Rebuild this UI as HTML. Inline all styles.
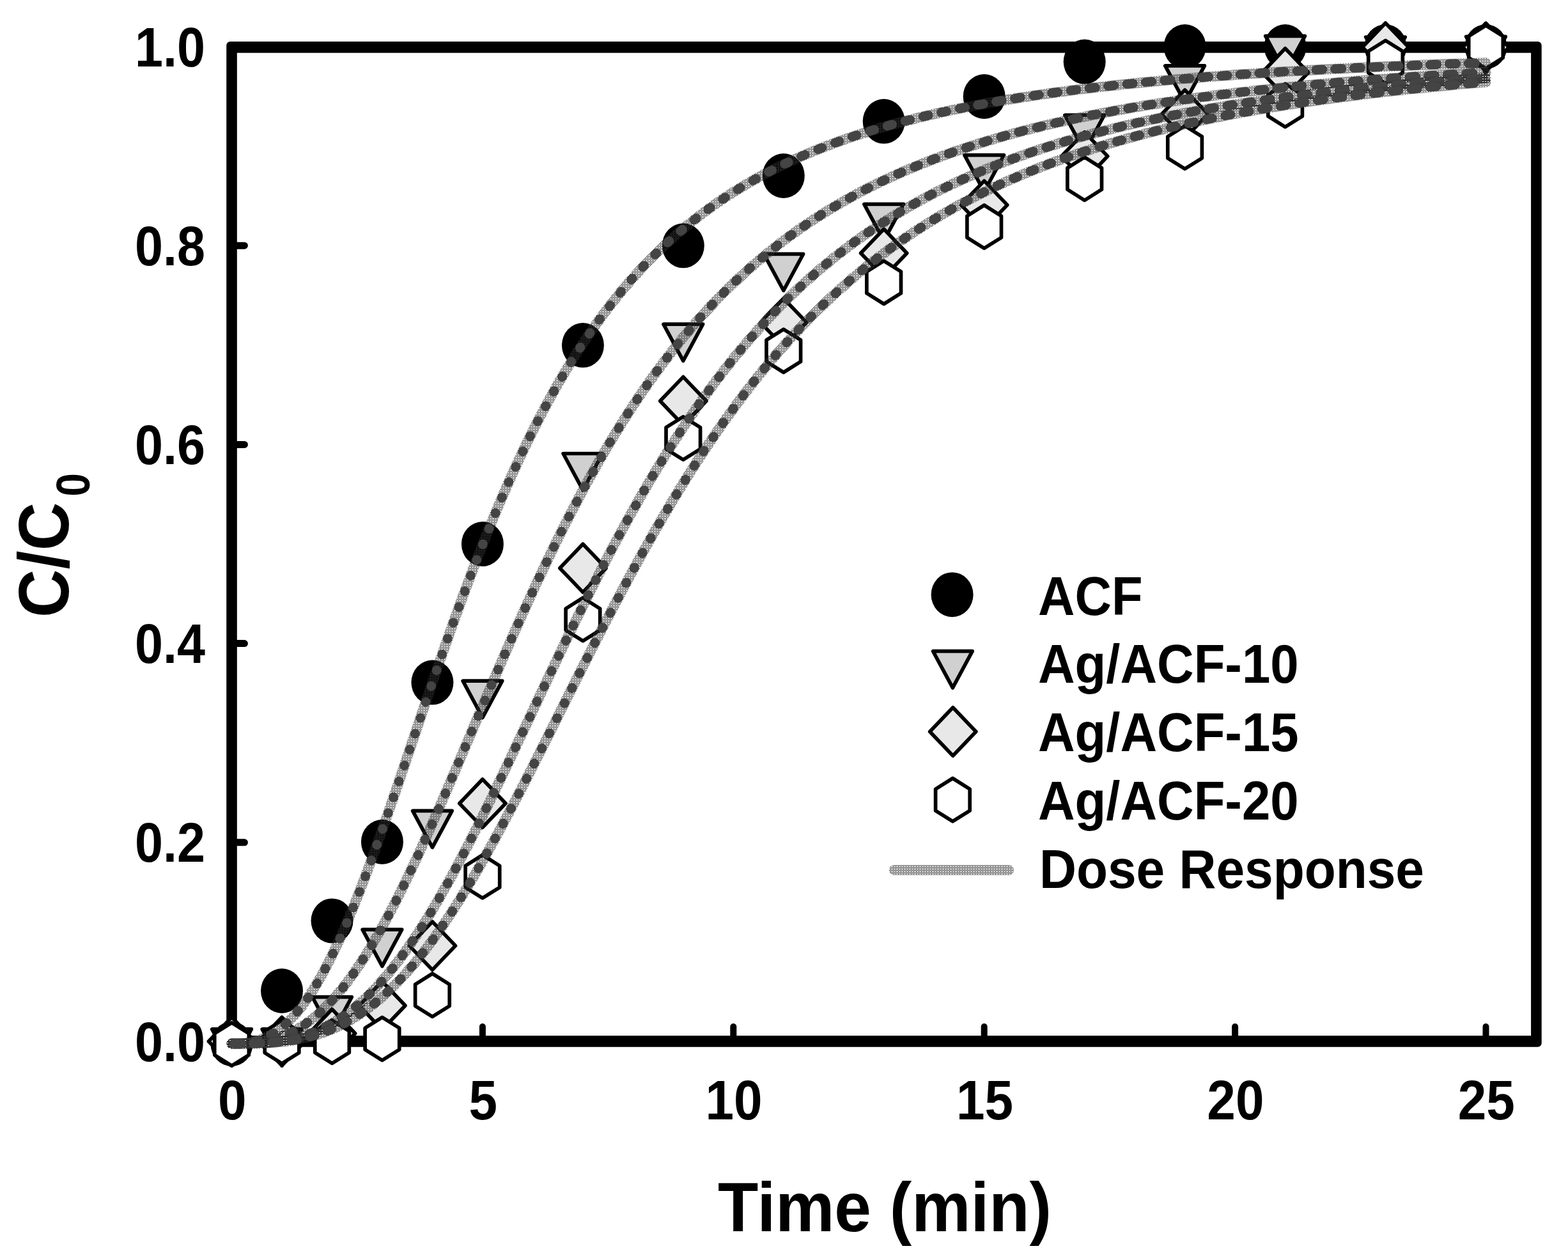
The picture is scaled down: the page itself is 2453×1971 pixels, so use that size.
<!DOCTYPE html>
<html><head><meta charset="utf-8"><title>C/C0 vs Time</title>
<style>
html,body{margin:0;padding:0;background:#fff;overflow:hidden;}
svg{display:block;}
text{font-family:"Liberation Sans",Arial,Helvetica,sans-serif;font-weight:bold;fill:#000;}
</style></head>
<body>
<svg width="2453" height="1971" viewBox="0 0 2453 1971">
<defs>
<ellipse id="mc" cx="0" cy="0" rx="33" ry="35" fill="#000"/>
<path id="mt" d="M-30.8,-19.1 L30.8,-19.1 L0,38.1 Z" fill="#d0d0d0" stroke="#000" stroke-width="5.7" stroke-linejoin="round"/>
<path id="md" d="M0,-37.7 L36.1,0 L0,37.7 L-36.1,0 Z" fill="#e8e8e8" stroke="#000" stroke-width="5.7" stroke-linejoin="round"/>
<path id="mh" d="M0,-33.7 L26.8,-16.85 L26.8,16.85 L0,33.7 L-26.8,16.85 L-26.8,-16.85 Z" fill="#fff" stroke="#000" stroke-width="5.7" stroke-linejoin="round"/>
<pattern id="pa" patternUnits="userSpaceOnUse" x="0" y="0" width="4" height="4"><g fill="#333" shape-rendering="crispEdges"><rect x="0" y="0" width="1" height="1"/><rect x="2" y="0" width="1" height="1"/><rect x="1" y="1" width="1" height="1"/><rect x="3" y="1" width="1" height="1"/><rect x="0" y="2" width="1" height="1"/><rect x="2" y="2" width="1" height="1"/><rect x="1" y="3" width="1" height="1"/></g></pattern>
<pattern id="pb" patternUnits="userSpaceOnUse" x="0" y="0" width="4" height="4"><g fill="#333" shape-rendering="crispEdges"><rect x="1" y="0" width="1" height="1"/><rect x="3" y="0" width="1" height="1"/><rect x="2" y="1" width="1" height="1"/><rect x="0" y="1" width="1" height="1"/><rect x="1" y="2" width="1" height="1"/><rect x="3" y="2" width="1" height="1"/><rect x="2" y="3" width="1" height="1"/></g></pattern>
</defs>
<rect width="2453" height="1971" fill="#fff"/>

<rect x="354.2" y="65" width="2057.5" height="1572.7" rx="6" ry="6" fill="#000"/>
<rect x="370.8" y="82.7" width="2024.3" height="1537.4" fill="#fff"/>
<g stroke="#000" stroke-linecap="round" fill="none">
<line x1="754.9" y1="1620" x2="754.9" y2="1606" stroke-width="10"/>
<line x1="1147.3" y1="1620" x2="1147.3" y2="1606" stroke-width="10"/>
<line x1="1539.7" y1="1620" x2="1539.7" y2="1606" stroke-width="10"/>
<line x1="1932.1" y1="1620" x2="1932.1" y2="1606" stroke-width="10"/>
<line x1="2324.5" y1="1620" x2="2324.5" y2="1606" stroke-width="10"/>
<line x1="370" y1="1317.8" x2="382.4" y2="1317.8" stroke-width="11"/>
<line x1="370" y1="1006.6" x2="382.4" y2="1006.6" stroke-width="11"/>
<line x1="370" y1="695.4" x2="382.4" y2="695.4" stroke-width="11"/>
<line x1="370" y1="384.2" x2="382.4" y2="384.2" stroke-width="11"/>
</g>
<g font-size="87">
<text x="321" y="1659.5" text-anchor="end" textLength="110" lengthAdjust="spacingAndGlyphs">0.0</text>
<text x="321" y="1348.3" text-anchor="end" textLength="110" lengthAdjust="spacingAndGlyphs">0.2</text>
<text x="321" y="1037.1" text-anchor="end" textLength="110" lengthAdjust="spacingAndGlyphs">0.4</text>
<text x="321" y="725.9" text-anchor="end" textLength="110" lengthAdjust="spacingAndGlyphs">0.6</text>
<text x="321" y="414.7" text-anchor="end" textLength="110" lengthAdjust="spacingAndGlyphs">0.8</text>
<text x="321" y="103.5" text-anchor="end" textLength="110" lengthAdjust="spacingAndGlyphs">1.0</text>
<text x="363.3" y="1751" text-anchor="middle" textLength="44.5" lengthAdjust="spacingAndGlyphs">0</text>
<text x="755.7" y="1751" text-anchor="middle" textLength="44.5" lengthAdjust="spacingAndGlyphs">5</text>
<text x="1148.1" y="1751" text-anchor="middle" textLength="89.1" lengthAdjust="spacingAndGlyphs">10</text>
<text x="1540.5" y="1751" text-anchor="middle" textLength="89.1" lengthAdjust="spacingAndGlyphs">15</text>
<text x="1932.9" y="1751" text-anchor="middle" textLength="89.1" lengthAdjust="spacingAndGlyphs">20</text>
<text x="2325.3" y="1751" text-anchor="middle" textLength="89.1" lengthAdjust="spacingAndGlyphs">25</text>
</g>
<text x="1384" y="1925.8" font-size="110" text-anchor="middle" textLength="522" lengthAdjust="spacingAndGlyphs">Time (min)</text>
<text transform="rotate(-90)" font-size="112"><tspan x="-966" y="107" textLength="180.3" lengthAdjust="spacingAndGlyphs">C/C</tspan><tspan x="-776.5" y="140" font-size="75" textLength="36.5" lengthAdjust="spacingAndGlyphs">0</tspan></text>
<use href="#mc" x="362.5" y="1633.0"/>
<use href="#mc" x="441.0" y="1550.0"/>
<use href="#mc" x="519.5" y="1440.4"/>
<use href="#mc" x="597.9" y="1317.0"/>
<use href="#mc" x="676.4" y="1067.6"/>
<use href="#mc" x="754.9" y="851.0"/>
<use href="#mc" x="911.9" y="540.1"/>
<use href="#mc" x="1068.8" y="384.3"/>
<use href="#mc" x="1225.8" y="275.0"/>
<use href="#mc" x="1382.7" y="189.8"/>
<use href="#mc" x="1539.7" y="151.0"/>
<use href="#mc" x="1696.7" y="96.6"/>
<use href="#mc" x="1853.6" y="73.0"/>
<use href="#mc" x="2010.6" y="73.0"/>
<use href="#mc" x="2167.5" y="73.0"/>
<use href="#mc" x="2324.5" y="73.0"/>
<use href="#mt" x="362.5" y="1629.0"/>
<use href="#mt" x="441.0" y="1629.0"/>
<use href="#mt" x="519.5" y="1578.7"/>
<use href="#mt" x="597.9" y="1473.3"/>
<use href="#mt" x="676.4" y="1287.5"/>
<use href="#mt" x="754.9" y="1084.3"/>
<use href="#mt" x="911.9" y="728.6"/>
<use href="#mt" x="1068.8" y="526.3"/>
<use href="#mt" x="1225.8" y="416.4"/>
<use href="#mt" x="1382.7" y="338.5"/>
<use href="#mt" x="1539.7" y="261.7"/>
<use href="#mt" x="1696.7" y="199.3"/>
<use href="#mt" x="1853.6" y="122.0"/>
<use href="#mt" x="2010.6" y="75.4"/>
<use href="#mt" x="2167.5" y="77.1"/>
<use href="#mt" x="2324.5" y="76.4"/>
<use href="#md" x="362.5" y="1629.0"/>
<use href="#md" x="441.0" y="1629.0"/>
<use href="#md" x="519.5" y="1616.5"/>
<use href="#md" x="597.9" y="1573.0"/>
<use href="#md" x="676.4" y="1479.4"/>
<use href="#md" x="754.9" y="1256.7"/>
<use href="#md" x="911.9" y="888.7"/>
<use href="#md" x="1068.8" y="627.3"/>
<use href="#md" x="1225.8" y="504.4"/>
<use href="#md" x="1382.7" y="396.0"/>
<use href="#md" x="1539.7" y="320.6"/>
<use href="#md" x="1696.7" y="244.4"/>
<use href="#md" x="1853.6" y="178.5"/>
<use href="#md" x="2010.6" y="113.5"/>
<use href="#md" x="2167.5" y="73.7"/>
<use href="#md" x="2324.5" y="74.0"/>
<use href="#mh" x="362.5" y="1633.5"/>
<use href="#mh" x="441.0" y="1630.0"/>
<use href="#mh" x="519.5" y="1629.7"/>
<use href="#mh" x="597.9" y="1625.0"/>
<use href="#mh" x="676.4" y="1556.7"/>
<use href="#mh" x="754.9" y="1371.2"/>
<use href="#mh" x="911.9" y="968.9"/>
<use href="#mh" x="1068.8" y="685.5"/>
<use href="#mh" x="1225.8" y="548.8"/>
<use href="#mh" x="1382.7" y="441.8"/>
<use href="#mh" x="1539.7" y="354.7"/>
<use href="#mh" x="1696.7" y="279.6"/>
<use href="#mh" x="1853.6" y="230.5"/>
<use href="#mh" x="2010.6" y="164.9"/>
<use href="#mh" x="2167.5" y="97.0"/>
<use href="#mh" x="2324.5" y="73.5"/>
<path d="M362.5,1632.6 L366.4,1632.6 L370.3,1632.5 L374.3,1632.4 L378.2,1632.1 L382.1,1631.8 L386.0,1631.4 L390.0,1630.8 L393.9,1630.1 L397.8,1629.2 L401.7,1628.1 L405.7,1626.9 L409.6,1625.5 L413.5,1623.9 L417.4,1622.2 L421.4,1620.2 L425.3,1618.0 L429.2,1615.6 L433.1,1613.0 L437.1,1610.1 L441.0,1607.0 L444.9,1603.7 L448.8,1600.2 L452.8,1596.4 L456.7,1592.3 L460.6,1588.0 L464.5,1583.5 L468.4,1578.7 L472.4,1573.7 L476.3,1568.4 L480.2,1562.9 L484.1,1557.2 L488.1,1551.1 L492.0,1544.9 L495.9,1538.4 L499.8,1531.6 L503.8,1524.6 L507.7,1517.4 L511.6,1510.0 L515.5,1502.3 L519.5,1494.4 L523.4,1486.3 L527.3,1477.9 L531.2,1469.4 L535.2,1460.6 L539.1,1451.7 L543.0,1442.5 L546.9,1433.2 L550.9,1423.7 L554.8,1414.0 L558.7,1404.2 L562.6,1394.2 L566.5,1384.0 L570.5,1373.7 L574.4,1363.3 L578.3,1352.7 L582.2,1342.1 L586.2,1331.3 L590.1,1320.3 L594.0,1309.3 L597.9,1298.2 L601.9,1287.1 L605.8,1275.8 L609.7,1264.5 L613.6,1253.1 L617.6,1241.6 L621.5,1230.1 L625.4,1218.6 L629.3,1207.0 L633.3,1195.4 L637.2,1183.8 L641.1,1172.2 L645.0,1160.6 L649.0,1148.9 L652.9,1137.3 L656.8,1125.7 L660.7,1114.1 L664.6,1102.5 L668.6,1090.9 L672.5,1079.4 L676.4,1067.9 L680.3,1056.5 L684.3,1045.1 L688.2,1033.8 L692.1,1022.5 L696.0,1011.2 L700.0,1000.1 L703.9,989.0 L707.8,978.0 L711.7,967.0 L715.7,956.1 L719.6,945.3 L723.5,934.6 L727.4,924.0 L731.4,913.5 L735.3,903.0 L739.2,892.7 L743.1,882.4 L747.1,872.2 L751.0,862.2 L754.9,852.2 L758.8,842.3 L762.7,832.5 L766.7,822.9 L770.6,813.3 L774.5,803.8 L778.4,794.5 L782.4,785.2 L786.3,776.0 L790.2,767.0 L794.1,758.0 L798.1,749.2 L802.0,740.5 L805.9,731.8 L809.8,723.3 L813.8,714.9 L817.7,706.6 L821.6,698.4 L825.5,690.3 L829.5,682.3 L833.4,674.4 L837.3,666.6 L841.2,658.9 L845.2,651.4 L849.1,643.9 L853.0,636.5 L856.9,629.2 L860.8,622.0 L864.8,615.0 L868.7,608.0 L872.6,601.1 L876.5,594.3 L880.5,587.6 L884.4,581.0 L888.3,574.5 L892.2,568.1 L896.2,561.7 L900.1,555.5 L904.0,549.3 L907.9,543.3 L911.9,537.3 L915.8,531.4 L919.7,525.6 L923.6,519.9 L927.6,514.3 L931.5,508.7 L935.4,503.2 L939.3,497.8 L943.3,492.5 L947.2,487.3 L951.1,482.1 L955.0,477.0 L958.9,472.0 L962.9,467.1 L966.8,462.2 L970.7,457.4 L974.6,452.7 L978.6,448.0 L982.5,443.5 L986.4,438.9 L990.3,434.5 L994.3,430.1 L998.2,425.8 L1002.1,421.5 L1006.0,417.3 L1010.0,413.2 L1013.9,409.1 L1017.8,405.1 L1021.7,401.1 L1025.7,397.2 L1029.6,393.4 L1033.5,389.6 L1037.4,385.9 L1041.4,382.2 L1045.3,378.6 L1049.2,375.0 L1053.1,371.5 L1057.0,368.0 L1061.0,364.6 L1064.9,361.2 L1068.8,357.9 L1072.7,354.6 L1076.7,351.4 L1080.6,348.2 L1084.5,345.1 L1088.4,342.0 L1092.4,339.0 L1096.3,336.0 L1100.2,333.0 L1104.1,330.1 L1108.1,327.2 L1112.0,324.4 L1115.9,321.6 L1119.8,318.8 L1123.8,316.1 L1127.7,313.4 L1131.6,310.8 L1135.5,308.2 L1139.5,305.6 L1143.4,303.1 L1147.3,300.6 L1151.2,298.2 L1155.1,295.7 L1159.1,293.3 L1163.0,291.0 L1166.9,288.7 L1170.8,286.4 L1174.8,284.1 L1178.7,281.9 L1182.6,279.7 L1186.5,277.5 L1190.5,275.4 L1194.4,273.2 L1198.3,271.2 L1202.2,269.1 L1206.2,267.1 L1210.1,265.1 L1214.0,263.1 L1217.9,261.2 L1221.9,259.2 L1225.8,257.3 L1229.7,255.5 L1233.6,253.6 L1237.6,251.8 L1241.5,250.0 L1245.4,248.2 L1249.3,246.5 L1253.2,244.7 L1257.2,243.0 L1261.1,241.4 L1265.0,239.7 L1268.9,238.1 L1272.9,236.4 L1276.8,234.8 L1280.7,233.3 L1284.6,231.7 L1288.6,230.2 L1292.5,228.7 L1296.4,227.2 L1300.3,225.7 L1304.3,224.2 L1312.1,221.4 L1320.0,218.6 L1327.8,215.8 L1335.7,213.2 L1343.5,210.6 L1351.3,208.1 L1359.2,205.6 L1367.0,203.2 L1374.9,200.8 L1382.7,198.5 L1390.6,196.3 L1398.4,194.1 L1406.3,192.0 L1414.1,189.9 L1422.0,187.9 L1429.8,185.9 L1437.7,183.9 L1445.5,182.0 L1453.4,180.2 L1461.2,178.4 L1469.1,176.6 L1476.9,174.9 L1484.8,173.2 L1492.6,171.5 L1500.5,169.9 L1508.3,168.3 L1516.2,166.8 L1524.0,165.3 L1531.9,163.8 L1539.7,162.3 L1547.5,160.9 L1555.4,159.5 L1563.2,158.2 L1571.1,156.8 L1578.9,155.5 L1586.8,154.3 L1594.6,153.0 L1602.5,151.8 L1610.3,150.6 L1618.2,149.4 L1626.0,148.3 L1633.9,147.1 L1641.7,146.0 L1649.6,145.0 L1657.4,143.9 L1665.3,142.9 L1673.1,141.8 L1681.0,140.9 L1688.8,139.9 L1696.7,138.9 L1704.5,138.0 L1712.4,137.1 L1720.2,136.1 L1728.1,135.3 L1735.9,134.4 L1743.7,133.5 L1751.6,132.7 L1759.4,131.9 L1767.3,131.1 L1775.1,130.3 L1783.0,129.5 L1790.8,128.7 L1798.7,128.0 L1806.5,127.3 L1814.4,126.5 L1822.2,125.8 L1830.1,125.1 L1837.9,124.4 L1845.8,123.8 L1853.6,123.1 L1861.5,122.5 L1869.3,121.8 L1877.2,121.2 L1885.0,120.6 L1892.9,120.0 L1900.7,119.4 L1908.6,118.8 L1916.4,118.2 L1924.3,117.7 L1932.1,117.1 L1939.9,116.6 L1947.8,116.0 L1955.6,115.5 L1963.5,115.0 L1971.3,114.5 L1979.2,114.0 L1987.0,113.5 L1994.9,113.0 L2002.7,112.5 L2010.6,112.1 L2018.4,111.6 L2026.3,111.1 L2034.1,110.7 L2042.0,110.3 L2049.8,109.8 L2057.7,109.4 L2065.5,109.0 L2073.4,108.6 L2081.2,108.2 L2089.1,107.8 L2096.9,107.4 L2104.8,107.0 L2112.6,106.6 L2120.5,106.2 L2128.3,105.9 L2136.1,105.5 L2144.0,105.1 L2151.8,104.8 L2159.7,104.4 L2167.5,104.1 L2175.4,103.7 L2183.2,103.4 L2191.1,103.1 L2198.9,102.8 L2206.8,102.4 L2214.6,102.1 L2222.5,101.8 L2230.3,101.5 L2238.2,101.2 L2246.0,100.9 L2253.9,100.6 L2261.7,100.3 L2269.6,100.1 L2277.4,99.8 L2285.3,99.5 L2293.1,99.2 L2301.0,99.0 L2308.8,98.7 L2316.7,98.4 L2324.5,98.2" fill="none" stroke="url(#pa)" stroke-width="16" stroke-linecap="round" stroke-linejoin="round"/>
<path d="M366.5,1632.6L377.4,1632.2M396.3,1629.6L404.5,1627.3M423.3,1619.1L428.2,1616.2M446.0,1602.7L448.7,1600.2M464.9,1583.0L466.6,1581.1M481.2,1561.5L482.3,1560.0M495.5,1539.0L496.3,1537.7M508.5,1515.9L509.1,1514.7M520.5,1492.3L521.0,1491.3M531.7,1468.4L532.1,1467.5M542.3,1444.2L542.6,1443.4M552.4,1419.9L552.7,1419.2M562.1,1395.5L562.4,1394.8M571.5,1371.0L571.8,1370.3M580.7,1346.4L580.9,1345.7M589.6,1321.7L589.8,1321.1M598.4,1297.0L598.6,1296.4M607.0,1272.2L607.2,1271.6M615.6,1247.4L615.8,1246.8M624.0,1222.6L624.2,1222.0M632.5,1197.8L632.7,1197.2M640.9,1172.9L641.0,1172.4M649.2,1148.1L649.4,1147.6M657.6,1123.3L657.8,1122.7M666.0,1098.4L666.2,1097.9M674.5,1073.6L674.7,1073.1M683.0,1048.8L683.2,1048.3M691.6,1024.1L691.8,1023.5M700.2,999.3L700.4,998.7M709.0,974.6L709.2,974.0M717.9,949.9L718.1,949.3M727.0,925.3L727.2,924.6M736.2,900.7L736.4,900.0M745.5,876.2L745.8,875.5M755.1,851.7L755.4,851.0M764.9,827.3L765.2,826.6M774.9,803.0L775.2,802.2M785.1,778.8L785.5,777.9M795.6,754.6L796.0,753.8M806.5,730.6L806.9,729.7M817.6,706.7L818.1,705.8M829.1,683.0L829.6,682.0M841.0,659.4L841.6,658.3M853.3,636.0L853.9,634.8M866.0,612.8L866.7,611.5M879.2,589.8L880.0,588.5M892.9,567.0L893.7,565.6M907.1,544.5L908.1,543.1M921.9,522.4L923.0,520.8M937.3,500.6L938.6,498.9M953.4,479.2L954.8,477.4M970.1,458.2L971.7,456.2M987.5,437.7L989.3,435.6M1005.7,417.7L1007.7,415.5M1024.6,398.3L1026.9,396.0M1044.2,379.5L1046.9,377.1M1064.7,361.4L1067.6,358.9M1085.8,344.0L1089.1,341.5M1107.8,327.4L1111.4,324.8M1130.4,311.6L1134.5,308.9M1153.8,296.6L1158.3,293.8M1177.8,282.4L1182.7,279.6M1202.4,269.0L1207.7,266.3M1227.6,256.4L1233.3,253.8M1253.4,244.7L1259.4,242.1M1279.6,233.7L1286.0,231.2M1306.2,223.5L1312.9,221.1M1333.2,214.0L1340.3,211.6M1360.5,205.2L1367.9,202.9M1388.1,197.0L1395.8,194.8M1416.0,189.4L1424.0,187.4M1444.1,182.4L1452.4,180.4M1472.5,175.8L1480.9,174.0M1501.0,169.8L1509.6,168.1M1529.6,164.2L1538.5,162.6M1558.4,159.0L1567.4,157.5M1587.3,154.2L1596.5,152.7M1616.4,149.7L1625.6,148.3M1645.5,145.5L1654.9,144.2M1674.7,141.6L1684.2,140.4M1704.0,138.0L1713.6,136.9M1733.3,134.7L1743.0,133.6M1762.7,131.5L1772.5,130.5M1792.1,128.6L1802.0,127.7M1821.6,125.9L1831.6,125.0M1851.1,123.3L1861.2,122.5M1880.7,120.9L1890.8,120.1M1910.3,118.7L1920.5,117.9M1940.0,116.6L1950.2,115.9M1969.6,114.6L1979.9,113.9M1999.3,112.7L2009.6,112.1M2029.0,111.0L2039.4,110.4M2058.7,109.3L2069.1,108.8M2088.5,107.8L2098.9,107.3M2118.2,106.3L2128.7,105.8M2148.0,105.0L2158.5,104.5M2177.8,103.6L2188.3,103.2M2207.6,102.4L2218.2,102.0M2237.4,101.2L2248.0,100.8M2267.3,100.1L2277.9,99.8M2297.1,99.1L2307.7,98.7" fill="none" stroke="#444" stroke-width="14.5" stroke-linecap="round"/>
<path d="M362.5,1632.6 L366.4,1632.6 L370.3,1632.6 L374.3,1632.5 L378.2,1632.4 L382.1,1632.3 L386.0,1632.1 L390.0,1631.9 L393.9,1631.6 L397.8,1631.2 L401.7,1630.8 L405.7,1630.3 L409.6,1629.7 L413.5,1629.0 L417.4,1628.2 L421.4,1627.3 L425.3,1626.3 L429.2,1625.3 L433.1,1624.1 L437.1,1622.8 L441.0,1621.4 L444.9,1619.8 L448.8,1618.2 L452.8,1616.4 L456.7,1614.5 L460.6,1612.4 L464.5,1610.3 L468.4,1608.0 L472.4,1605.5 L476.3,1602.9 L480.2,1600.2 L484.1,1597.4 L488.1,1594.3 L492.0,1591.2 L495.9,1587.9 L499.8,1584.4 L503.8,1580.8 L507.7,1577.1 L511.6,1573.2 L515.5,1569.1 L519.5,1564.9 L523.4,1560.6 L527.3,1556.1 L531.2,1551.4 L535.2,1546.6 L539.1,1541.6 L543.0,1536.5 L546.9,1531.3 L550.9,1525.9 L554.8,1520.3 L558.7,1514.6 L562.6,1508.8 L566.5,1502.8 L570.5,1496.7 L574.4,1490.4 L578.3,1484.0 L582.2,1477.5 L586.2,1470.8 L590.1,1464.1 L594.0,1457.1 L597.9,1450.1 L601.9,1442.9 L605.8,1435.6 L609.7,1428.3 L613.6,1420.7 L617.6,1413.1 L621.5,1405.4 L625.4,1397.6 L629.3,1389.6 L633.3,1381.6 L637.2,1373.5 L641.1,1365.3 L645.0,1357.0 L649.0,1348.6 L652.9,1340.1 L656.8,1331.6 L660.7,1323.0 L664.6,1314.3 L668.6,1305.6 L672.5,1296.8 L676.4,1288.0 L680.3,1279.1 L684.3,1270.1 L688.2,1261.1 L692.1,1252.1 L696.0,1243.0 L700.0,1233.9 L703.9,1224.7 L707.8,1215.6 L711.7,1206.4 L715.7,1197.1 L719.6,1187.9 L723.5,1178.7 L727.4,1169.4 L731.4,1160.1 L735.3,1150.9 L739.2,1141.6 L743.1,1132.3 L747.1,1123.0 L751.0,1113.8 L754.9,1104.5 L758.8,1095.3 L762.7,1086.1 L766.7,1076.9 L770.6,1067.7 L774.5,1058.5 L778.4,1049.4 L782.4,1040.3 L786.3,1031.2 L790.2,1022.2 L794.1,1013.2 L798.1,1004.2 L802.0,995.3 L805.9,986.4 L809.8,977.6 L813.8,968.8 L817.7,960.0 L821.6,951.3 L825.5,942.7 L829.5,934.0 L833.4,925.5 L837.3,917.0 L841.2,908.5 L845.2,900.2 L849.1,891.8 L853.0,883.5 L856.9,875.3 L860.8,867.2 L864.8,859.1 L868.7,851.0 L872.6,843.1 L876.5,835.2 L880.5,827.3 L884.4,819.5 L888.3,811.8 L892.2,804.2 L896.2,796.6 L900.1,789.1 L904.0,781.6 L907.9,774.2 L911.9,766.9 L915.8,759.6 L919.7,752.4 L923.6,745.3 L927.6,738.3 L931.5,731.3 L935.4,724.4 L939.3,717.5 L943.3,710.7 L947.2,704.0 L951.1,697.4 L955.0,690.8 L958.9,684.3 L962.9,677.8 L966.8,671.5 L970.7,665.1 L974.6,658.9 L978.6,652.7 L982.5,646.6 L986.4,640.5 L990.3,634.6 L994.3,628.6 L998.2,622.8 L1002.1,617.0 L1006.0,611.3 L1010.0,605.6 L1013.9,600.0 L1017.8,594.4 L1021.7,589.0 L1025.7,583.5 L1029.6,578.2 L1033.5,572.9 L1037.4,567.7 L1041.4,562.5 L1045.3,557.4 L1049.2,552.3 L1053.1,547.3 L1057.0,542.3 L1061.0,537.5 L1064.9,532.6 L1068.8,527.8 L1072.7,523.1 L1076.7,518.5 L1080.6,513.8 L1084.5,509.3 L1088.4,504.8 L1092.4,500.3 L1096.3,495.9 L1100.2,491.6 L1104.1,487.3 L1108.1,483.0 L1112.0,478.8 L1115.9,474.7 L1119.8,470.6 L1123.8,466.5 L1127.7,462.5 L1131.6,458.6 L1135.5,454.7 L1139.5,450.8 L1143.4,447.0 L1147.3,443.2 L1151.2,439.5 L1155.1,435.8 L1159.1,432.2 L1163.0,428.6 L1166.9,425.0 L1170.8,421.5 L1174.8,418.0 L1178.7,414.6 L1182.6,411.2 L1186.5,407.9 L1190.5,404.6 L1194.4,401.3 L1198.3,398.1 L1202.2,394.9 L1206.2,391.7 L1210.1,388.6 L1214.0,385.5 L1217.9,382.5 L1221.9,379.5 L1225.8,376.5 L1229.7,373.6 L1233.6,370.7 L1237.6,367.8 L1241.5,365.0 L1245.4,362.2 L1249.3,359.4 L1253.2,356.7 L1257.2,354.0 L1261.1,351.3 L1265.0,348.7 L1268.9,346.0 L1272.9,343.5 L1276.8,340.9 L1280.7,338.4 L1284.6,335.9 L1288.6,333.4 L1292.5,331.0 L1296.4,328.6 L1300.3,326.2 L1304.3,323.9 L1312.1,319.3 L1320.0,314.8 L1327.8,310.3 L1335.7,306.0 L1343.5,301.8 L1351.3,297.7 L1359.2,293.7 L1367.0,289.8 L1374.9,285.9 L1382.7,282.2 L1390.6,278.5 L1398.4,274.9 L1406.3,271.4 L1414.1,267.9 L1422.0,264.6 L1429.8,261.3 L1437.7,258.1 L1445.5,254.9 L1453.4,251.9 L1461.2,248.8 L1469.1,245.9 L1476.9,243.0 L1484.8,240.2 L1492.6,237.4 L1500.5,234.7 L1508.3,232.1 L1516.2,229.5 L1524.0,227.0 L1531.9,224.5 L1539.7,222.1 L1547.5,219.7 L1555.4,217.3 L1563.2,215.1 L1571.1,212.8 L1578.9,210.6 L1586.8,208.5 L1594.6,206.4 L1602.5,204.3 L1610.3,202.3 L1618.2,200.3 L1626.0,198.4 L1633.9,196.5 L1641.7,194.6 L1649.6,192.8 L1657.4,191.0 L1665.3,189.2 L1673.1,187.5 L1681.0,185.8 L1688.8,184.1 L1696.7,182.5 L1704.5,180.9 L1712.4,179.4 L1720.2,177.8 L1728.1,176.3 L1735.9,174.8 L1743.7,173.4 L1751.6,172.0 L1759.4,170.6 L1767.3,169.2 L1775.1,167.8 L1783.0,166.5 L1790.8,165.2 L1798.7,163.9 L1806.5,162.7 L1814.4,161.5 L1822.2,160.3 L1830.1,159.1 L1837.9,157.9 L1845.8,156.8 L1853.6,155.6 L1861.5,154.5 L1869.3,153.4 L1877.2,152.4 L1885.0,151.3 L1892.9,150.3 L1900.7,149.3 L1908.6,148.3 L1916.4,147.3 L1924.3,146.4 L1932.1,145.4 L1939.9,144.5 L1947.8,143.6 L1955.6,142.7 L1963.5,141.8 L1971.3,140.9 L1979.2,140.1 L1987.0,139.2 L1994.9,138.4 L2002.7,137.6 L2010.6,136.8 L2018.4,136.0 L2026.3,135.2 L2034.1,134.5 L2042.0,133.7 L2049.8,133.0 L2057.7,132.2 L2065.5,131.5 L2073.4,130.8 L2081.2,130.1 L2089.1,129.4 L2096.9,128.8 L2104.8,128.1 L2112.6,127.5 L2120.5,126.8 L2128.3,126.2 L2136.1,125.6 L2144.0,125.0 L2151.8,124.4 L2159.7,123.8 L2167.5,123.2 L2175.4,122.6 L2183.2,122.0 L2191.1,121.5 L2198.9,120.9 L2206.8,120.4 L2214.6,119.8 L2222.5,119.3 L2230.3,118.8 L2238.2,118.3 L2246.0,117.8 L2253.9,117.3 L2261.7,116.8 L2269.6,116.3 L2277.4,115.8 L2285.3,115.4 L2293.1,114.9 L2301.0,114.5 L2308.8,114.0 L2316.7,113.6 L2324.5,113.1" fill="none" stroke="url(#pb)" stroke-width="16" stroke-linecap="round" stroke-linejoin="round"/>
<path d="M366.5,1632.6L377.5,1632.4M396.5,1631.3L406.3,1630.2M425.6,1626.3L433.5,1624.0M452.8,1616.4L458.5,1613.6M477.3,1602.3L481.2,1599.5M499.1,1585.1L501.8,1582.7M518.5,1565.9L520.5,1563.8M536.1,1545.4L537.6,1543.5M552.3,1523.9L553.4,1522.2M567.2,1501.7L568.2,1500.3M581.3,1479.1L582.1,1477.8M594.6,1456.1L595.3,1454.9M607.3,1432.8L607.9,1431.7M619.5,1409.4L620.0,1408.3M631.3,1385.7L631.8,1384.7M642.7,1361.9L643.2,1360.9M653.9,1338.0L654.3,1337.1M664.8,1314.0L665.2,1313.1M675.6,1289.9L675.9,1289.1M686.1,1265.8L686.5,1265.0M696.6,1241.7L697.0,1240.8M707.0,1217.5L707.3,1216.6M717.3,1193.2L717.7,1192.4M727.6,1169.0L727.9,1168.2M737.8,1144.8L738.2,1144.0M748.1,1120.5L748.4,1119.7M758.4,1096.3L758.7,1095.5M768.7,1072.1L769.1,1071.3M779.1,1047.9L779.4,1047.1M789.5,1023.8L789.9,1022.9M800.1,999.6L800.5,998.8M810.7,975.5L811.1,974.7M821.5,951.5L821.9,950.6M832.4,927.5L832.9,926.6M843.5,903.6L844.0,902.7M854.8,879.8L855.3,878.8M866.3,856.0L866.8,855.0M878.0,832.3L878.5,831.3M889.9,808.7L890.4,807.7M902.1,785.3L902.7,784.1M914.5,761.9L915.2,760.8M927.3,738.7L928.0,737.5M940.4,715.7L941.1,714.4M953.8,692.8L954.6,691.5M967.6,670.1L968.5,668.7M981.8,647.6L982.8,646.1M996.5,625.3L997.5,623.8M1011.5,603.3L1012.7,601.7M1027.1,581.6L1028.3,579.9M1043.1,560.2L1044.5,558.4M1059.7,539.1L1061.2,537.2M1076.8,518.3L1078.5,516.3M1094.5,498.0L1096.3,495.9M1112.7,478.1L1114.8,475.9M1131.6,458.6L1133.8,456.3M1151.0,439.7L1153.6,437.3M1171.1,421.3L1173.9,418.8M1191.9,403.4L1194.9,400.9M1213.2,386.2L1216.5,383.6M1235.1,369.6L1238.8,366.9M1257.7,353.6L1261.7,350.9M1280.9,338.3L1285.1,335.6M1304.6,323.7L1309.2,321.0M1328.8,309.8L1333.8,307.1M1353.6,296.6L1358.9,293.9M1378.8,284.0L1384.4,281.4M1404.5,272.2L1410.4,269.6M1430.5,261.0L1436.8,258.4M1457.0,250.5L1463.6,248.0M1483.8,240.6L1490.7,238.1M1510.9,231.2L1518.0,228.9M1538.3,222.5L1545.7,220.2M1565.9,214.3L1573.6,212.1M1593.7,206.6L1601.6,204.5M1621.8,199.4L1629.9,197.4M1650.1,192.7L1658.4,190.8M1678.5,186.3L1687.0,184.5M1707.0,180.4L1715.7,178.7M1735.7,174.9L1744.5,173.2M1764.5,169.7L1773.5,168.1M1793.4,164.8L1802.5,163.3M1822.4,160.2L1831.6,158.8M1851.5,155.9L1860.8,154.6M1880.6,151.9L1890.1,150.7M1909.9,148.1L1919.4,146.9M1939.2,144.6L1948.8,143.4M1968.5,141.2L1978.2,140.2M1997.9,138.1L2007.7,137.1M2027.3,135.1L2037.2,134.2M2056.8,132.3L2066.8,131.4M2086.3,129.7L2096.3,128.8M2115.9,127.2L2125.9,126.4M2145.4,124.8L2155.6,124.1M2175.1,122.6L2185.2,121.9M2204.7,120.5L2214.9,119.8M2234.4,118.5L2244.6,117.9M2264.0,116.7L2274.3,116.0M2293.7,114.9L2304.1,114.3" fill="none" stroke="#444" stroke-width="14.5" stroke-linecap="round"/>
<path d="M362.5,1632.6 L366.4,1632.6 L370.3,1632.6 L374.3,1632.6 L378.2,1632.5 L382.1,1632.5 L386.0,1632.4 L390.0,1632.4 L393.9,1632.3 L397.8,1632.1 L401.7,1632.0 L405.7,1631.8 L409.6,1631.6 L413.5,1631.3 L417.4,1631.0 L421.4,1630.7 L425.3,1630.3 L429.2,1629.8 L433.1,1629.4 L437.1,1628.8 L441.0,1628.2 L444.9,1627.6 L448.8,1626.8 L452.8,1626.0 L456.7,1625.2 L460.6,1624.3 L464.5,1623.3 L468.4,1622.2 L472.4,1621.1 L476.3,1619.9 L480.2,1618.6 L484.1,1617.2 L488.1,1615.7 L492.0,1614.1 L495.9,1612.5 L499.8,1610.8 L503.8,1609.0 L507.7,1607.0 L511.6,1605.0 L515.5,1602.9 L519.5,1600.7 L523.4,1598.4 L527.3,1596.0 L531.2,1593.5 L535.2,1590.9 L539.1,1588.1 L543.0,1585.3 L546.9,1582.4 L550.9,1579.3 L554.8,1576.2 L558.7,1572.9 L562.6,1569.5 L566.5,1566.0 L570.5,1562.4 L574.4,1558.7 L578.3,1554.9 L582.2,1550.9 L586.2,1546.9 L590.1,1542.7 L594.0,1538.4 L597.9,1534.1 L601.9,1529.5 L605.8,1524.9 L609.7,1520.2 L613.6,1515.3 L617.6,1510.4 L621.5,1505.3 L625.4,1500.1 L629.3,1494.9 L633.3,1489.5 L637.2,1484.0 L641.1,1478.3 L645.0,1472.6 L649.0,1466.8 L652.9,1460.9 L656.8,1454.9 L660.7,1448.7 L664.6,1442.5 L668.6,1436.2 L672.5,1429.8 L676.4,1423.3 L680.3,1416.7 L684.3,1410.0 L688.2,1403.2 L692.1,1396.3 L696.0,1389.4 L700.0,1382.4 L703.9,1375.3 L707.8,1368.1 L711.7,1360.8 L715.7,1353.5 L719.6,1346.1 L723.5,1338.6 L727.4,1331.1 L731.4,1323.5 L735.3,1315.8 L739.2,1308.1 L743.1,1300.4 L747.1,1292.5 L751.0,1284.7 L754.9,1276.7 L758.8,1268.8 L762.7,1260.8 L766.7,1252.7 L770.6,1244.6 L774.5,1236.5 L778.4,1228.3 L782.4,1220.1 L786.3,1211.9 L790.2,1203.7 L794.1,1195.4 L798.1,1187.1 L802.0,1178.8 L805.9,1170.5 L809.8,1162.2 L813.8,1153.8 L817.7,1145.5 L821.6,1137.1 L825.5,1128.8 L829.5,1120.4 L833.4,1112.1 L837.3,1103.7 L841.2,1095.3 L845.2,1087.0 L849.1,1078.7 L853.0,1070.3 L856.9,1062.0 L860.8,1053.7 L864.8,1045.4 L868.7,1037.2 L872.6,1028.9 L876.5,1020.7 L880.5,1012.5 L884.4,1004.3 L888.3,996.2 L892.2,988.1 L896.2,980.0 L900.1,971.9 L904.0,963.9 L907.9,955.9 L911.9,948.0 L915.8,940.0 L919.7,932.2 L923.6,924.3 L927.6,916.5 L931.5,908.8 L935.4,901.0 L939.3,893.4 L943.3,885.7 L947.2,878.2 L951.1,870.6 L955.0,863.1 L958.9,855.7 L962.9,848.3 L966.8,840.9 L970.7,833.7 L974.6,826.4 L978.6,819.2 L982.5,812.1 L986.4,805.0 L990.3,797.9 L994.3,791.0 L998.2,784.0 L1002.1,777.1 L1006.0,770.3 L1010.0,763.5 L1013.9,756.8 L1017.8,750.2 L1021.7,743.6 L1025.7,737.0 L1029.6,730.5 L1033.5,724.1 L1037.4,717.7 L1041.4,711.3 L1045.3,705.1 L1049.2,698.8 L1053.1,692.7 L1057.0,686.6 L1061.0,680.5 L1064.9,674.5 L1068.8,668.6 L1072.7,662.7 L1076.7,656.9 L1080.6,651.1 L1084.5,645.4 L1088.4,639.7 L1092.4,634.1 L1096.3,628.5 L1100.2,623.0 L1104.1,617.6 L1108.1,612.2 L1112.0,606.8 L1115.9,601.5 L1119.8,596.3 L1123.8,591.1 L1127.7,586.0 L1131.6,580.9 L1135.5,575.9 L1139.5,570.9 L1143.4,566.0 L1147.3,561.1 L1151.2,556.3 L1155.1,551.5 L1159.1,546.8 L1163.0,542.1 L1166.9,537.5 L1170.8,532.9 L1174.8,528.4 L1178.7,523.9 L1182.6,519.5 L1186.5,515.1 L1190.5,510.8 L1194.4,506.5 L1198.3,502.2 L1202.2,498.0 L1206.2,493.9 L1210.1,489.8 L1214.0,485.7 L1217.9,481.7 L1221.9,477.7 L1225.8,473.8 L1229.7,469.9 L1233.6,466.0 L1237.6,462.2 L1241.5,458.5 L1245.4,454.7 L1249.3,451.0 L1253.2,447.4 L1257.2,443.8 L1261.1,440.2 L1265.0,436.7 L1268.9,433.2 L1272.9,429.8 L1276.8,426.4 L1280.7,423.0 L1284.6,419.7 L1288.6,416.4 L1292.5,413.1 L1296.4,409.9 L1300.3,406.7 L1304.3,403.5 L1312.1,397.3 L1320.0,391.3 L1327.8,385.3 L1335.7,379.5 L1343.5,373.8 L1351.3,368.3 L1359.2,362.9 L1367.0,357.6 L1374.9,352.4 L1382.7,347.3 L1390.6,342.3 L1398.4,337.5 L1406.3,332.7 L1414.1,328.1 L1422.0,323.5 L1429.8,319.1 L1437.7,314.7 L1445.5,310.4 L1453.4,306.3 L1461.2,302.2 L1469.1,298.2 L1476.9,294.3 L1484.8,290.5 L1492.6,286.7 L1500.5,283.1 L1508.3,279.5 L1516.2,276.0 L1524.0,272.6 L1531.9,269.2 L1539.7,265.9 L1547.5,262.7 L1555.4,259.5 L1563.2,256.5 L1571.1,253.4 L1578.9,250.5 L1586.8,247.6 L1594.6,244.7 L1602.5,242.0 L1610.3,239.2 L1618.2,236.6 L1626.0,233.9 L1633.9,231.4 L1641.7,228.9 L1649.6,226.4 L1657.4,224.0 L1665.3,221.6 L1673.1,219.3 L1681.0,217.1 L1688.8,214.8 L1696.7,212.7 L1704.5,210.5 L1712.4,208.4 L1720.2,206.4 L1728.1,204.4 L1735.9,202.4 L1743.7,200.5 L1751.6,198.6 L1759.4,196.7 L1767.3,194.9 L1775.1,193.1 L1783.0,191.3 L1790.8,189.6 L1798.7,187.9 L1806.5,186.2 L1814.4,184.6 L1822.2,183.0 L1830.1,181.4 L1837.9,179.9 L1845.8,178.4 L1853.6,176.9 L1861.5,175.4 L1869.3,174.0 L1877.2,172.6 L1885.0,171.2 L1892.9,169.9 L1900.7,168.5 L1908.6,167.2 L1916.4,166.0 L1924.3,164.7 L1932.1,163.5 L1939.9,162.2 L1947.8,161.1 L1955.6,159.9 L1963.5,158.7 L1971.3,157.6 L1979.2,156.5 L1987.0,155.4 L1994.9,154.3 L2002.7,153.3 L2010.6,152.2 L2018.4,151.2 L2026.3,150.2 L2034.1,149.2 L2042.0,148.2 L2049.8,147.3 L2057.7,146.3 L2065.5,145.4 L2073.4,144.5 L2081.2,143.6 L2089.1,142.7 L2096.9,141.9 L2104.8,141.0 L2112.6,140.2 L2120.5,139.4 L2128.3,138.6 L2136.1,137.8 L2144.0,137.0 L2151.8,136.2 L2159.7,135.5 L2167.5,134.7 L2175.4,134.0 L2183.2,133.2 L2191.1,132.5 L2198.9,131.8 L2206.8,131.1 L2214.6,130.5 L2222.5,129.8 L2230.3,129.1 L2238.2,128.5 L2246.0,127.9 L2253.9,127.2 L2261.7,126.6 L2269.6,126.0 L2277.4,125.4 L2285.3,124.8 L2293.1,124.2 L2301.0,123.7 L2308.8,123.1 L2316.7,122.5 L2324.5,122.0" fill="none" stroke="url(#pa)" stroke-width="16" stroke-linecap="round" stroke-linejoin="round"/>
<path d="M366.5,1632.6L377.5,1632.5M396.5,1632.2L407.1,1631.7M426.3,1630.2L436.0,1629.0M455.5,1625.5L463.9,1623.5M483.4,1617.4L490.3,1614.8M509.7,1606.0L515.0,1603.2M533.9,1591.7L538.0,1588.9M556.2,1575.0L559.2,1572.5M576.5,1556.7L578.9,1554.3M595.3,1537.0L597.2,1534.9M612.8,1516.4L614.3,1514.5M629.2,1495.1L630.4,1493.3M644.6,1473.2L645.7,1471.6M659.3,1450.9L660.3,1449.5M673.4,1428.3L674.2,1426.9M686.9,1405.4L687.7,1404.1M700.0,1382.3L700.7,1381.1M712.7,1359.1L713.3,1357.9M725.1,1335.7L725.6,1334.6M737.2,1312.1L737.7,1311.1M749.0,1288.5L749.6,1287.5M760.7,1264.8L761.2,1263.8M772.3,1241.1L772.8,1240.1M783.7,1217.3L784.2,1216.3M795.1,1193.5L795.5,1192.5M806.3,1169.6L806.8,1168.7M817.6,1145.7L818.0,1144.8M828.8,1121.9L829.2,1120.9M840.0,1098.0L840.4,1097.0M851.2,1074.1L851.7,1073.2M862.5,1050.3L862.9,1049.3M873.8,1026.4L874.3,1025.5M885.2,1002.6L885.7,1001.6M896.7,978.9L897.2,977.9M908.3,955.2L908.8,954.1M920.0,931.5L920.6,930.5M931.9,907.9L932.5,906.8M944.0,884.4L944.5,883.3M956.2,860.9L956.8,859.8M968.6,837.5L969.2,836.4M981.3,814.3L981.9,813.1M994.2,791.1L994.9,789.9M1007.3,768.1L1008.0,766.8M1020.7,745.2L1021.5,743.9M1034.5,722.5L1035.3,721.1M1048.5,699.9L1049.4,698.5M1062.9,677.5L1063.9,676.0M1077.7,655.3L1078.8,653.8M1092.9,633.4L1094.0,631.7M1108.4,611.7L1109.7,609.9M1124.5,590.2L1125.8,588.4M1140.9,569.1L1142.4,567.2M1157.9,548.2L1159.5,546.3M1175.4,527.7L1177.1,525.7M1193.3,507.6L1195.3,505.5M1211.9,487.9L1214.0,485.7M1231.0,468.6L1233.3,466.3M1250.6,449.8L1253.2,447.5M1270.9,431.5L1273.7,429.1M1291.7,413.8L1294.7,411.3M1313.1,396.6L1316.4,394.0M1335.0,380.0L1338.7,377.3M1357.6,364.0L1361.5,361.3M1380.7,348.6L1384.9,345.9M1404.3,333.9L1408.8,331.2M1428.4,319.8L1433.3,317.1M1453.0,306.4L1458.3,303.7M1478.1,293.7L1483.7,291.0M1503.6,281.6L1509.5,279.0M1529.6,270.2L1535.7,267.6M1555.9,259.4L1562.3,256.8M1582.5,249.2L1589.2,246.7M1609.4,239.5L1616.5,237.1M1636.7,230.5L1644.0,228.2M1664.2,222.0L1671.7,219.7M1691.9,214.0L1699.7,211.8M1719.8,206.5L1727.8,204.4M1748.0,199.4L1756.1,197.5M1776.3,192.8L1784.6,191.0M1804.7,186.6L1813.3,184.8M1833.3,180.8L1842.0,179.1M1862.0,175.3L1870.9,173.7M1890.8,170.2L1899.8,168.7M1919.8,165.4L1928.9,164.0M1948.8,160.9L1958.0,159.5M1977.9,156.7L1987.2,155.4M2007.0,152.7L2016.5,151.4M2036.3,148.9L2045.9,147.8M2065.6,145.4L2075.2,144.3M2094.9,142.1L2104.7,141.0M2124.3,139.0L2134.1,138.0M2153.8,136.0L2163.7,135.1M2183.3,133.2L2193.2,132.3M2212.8,130.6L2222.8,129.8M2242.3,128.2L2252.4,127.3M2271.9,125.8L2282.0,125.1M2301.5,123.6L2311.7,122.9" fill="none" stroke="#444" stroke-width="14.5" stroke-linecap="round"/>
<path d="M362.5,1632.6 L366.4,1632.6 L370.3,1632.6 L374.3,1632.6 L378.2,1632.6 L382.1,1632.5 L386.0,1632.5 L390.0,1632.4 L393.9,1632.4 L397.8,1632.3 L401.7,1632.2 L405.7,1632.1 L409.6,1631.9 L413.5,1631.8 L417.4,1631.6 L421.4,1631.3 L425.3,1631.1 L429.2,1630.8 L433.1,1630.4 L437.1,1630.0 L441.0,1629.6 L444.9,1629.2 L448.8,1628.7 L452.8,1628.1 L456.7,1627.5 L460.6,1626.9 L464.5,1626.2 L468.4,1625.4 L472.4,1624.6 L476.3,1623.7 L480.2,1622.8 L484.1,1621.8 L488.1,1620.8 L492.0,1619.7 L495.9,1618.5 L499.8,1617.2 L503.8,1615.9 L507.7,1614.5 L511.6,1613.0 L515.5,1611.5 L519.5,1609.8 L523.4,1608.1 L527.3,1606.4 L531.2,1604.5 L535.2,1602.6 L539.1,1600.5 L543.0,1598.4 L546.9,1596.2 L550.9,1593.9 L554.8,1591.6 L558.7,1589.1 L562.6,1586.6 L566.5,1583.9 L570.5,1581.2 L574.4,1578.3 L578.3,1575.4 L582.2,1572.4 L586.2,1569.3 L590.1,1566.1 L594.0,1562.8 L597.9,1559.4 L601.9,1555.9 L605.8,1552.3 L609.7,1548.6 L613.6,1544.8 L617.6,1540.9 L621.5,1536.9 L625.4,1532.8 L629.3,1528.7 L633.3,1524.4 L637.2,1520.0 L641.1,1515.5 L645.0,1511.0 L649.0,1506.3 L652.9,1501.5 L656.8,1496.7 L660.7,1491.7 L664.6,1486.7 L668.6,1481.5 L672.5,1476.3 L676.4,1470.9 L680.3,1465.5 L684.3,1460.0 L688.2,1454.4 L692.1,1448.7 L696.0,1443.0 L700.0,1437.1 L703.9,1431.2 L707.8,1425.1 L711.7,1419.0 L715.7,1412.9 L719.6,1406.6 L723.5,1400.3 L727.4,1393.8 L731.4,1387.4 L735.3,1380.8 L739.2,1374.2 L743.1,1367.5 L747.1,1360.7 L751.0,1353.9 L754.9,1347.0 L758.8,1340.0 L762.7,1333.0 L766.7,1326.0 L770.6,1318.8 L774.5,1311.7 L778.4,1304.4 L782.4,1297.2 L786.3,1289.8 L790.2,1282.5 L794.1,1275.0 L798.1,1267.6 L802.0,1260.1 L805.9,1252.6 L809.8,1245.0 L813.8,1237.4 L817.7,1229.8 L821.6,1222.1 L825.5,1214.4 L829.5,1206.7 L833.4,1199.0 L837.3,1191.2 L841.2,1183.5 L845.2,1175.7 L849.1,1167.9 L853.0,1160.1 L856.9,1152.3 L860.8,1144.4 L864.8,1136.6 L868.7,1128.7 L872.6,1120.9 L876.5,1113.0 L880.5,1105.2 L884.4,1097.3 L888.3,1089.5 L892.2,1081.7 L896.2,1073.8 L900.1,1066.0 L904.0,1058.2 L907.9,1050.4 L911.9,1042.6 L915.8,1034.9 L919.7,1027.1 L923.6,1019.4 L927.6,1011.7 L931.5,1004.0 L935.4,996.3 L939.3,988.7 L943.3,981.0 L947.2,973.4 L951.1,965.9 L955.0,958.3 L958.9,950.8 L962.9,943.3 L966.8,935.9 L970.7,928.5 L974.6,921.1 L978.6,913.8 L982.5,906.4 L986.4,899.2 L990.3,891.9 L994.3,884.7 L998.2,877.6 L1002.1,870.5 L1006.0,863.4 L1010.0,856.4 L1013.9,849.4 L1017.8,842.4 L1021.7,835.5 L1025.7,828.6 L1029.6,821.8 L1033.5,815.0 L1037.4,808.3 L1041.4,801.6 L1045.3,795.0 L1049.2,788.4 L1053.1,781.8 L1057.0,775.3 L1061.0,768.9 L1064.9,762.5 L1068.8,756.1 L1072.7,749.8 L1076.7,743.6 L1080.6,737.3 L1084.5,731.2 L1088.4,725.1 L1092.4,719.0 L1096.3,713.0 L1100.2,707.0 L1104.1,701.1 L1108.1,695.2 L1112.0,689.4 L1115.9,683.6 L1119.8,677.9 L1123.8,672.2 L1127.7,666.6 L1131.6,661.0 L1135.5,655.5 L1139.5,650.0 L1143.4,644.6 L1147.3,639.2 L1151.2,633.9 L1155.1,628.6 L1159.1,623.4 L1163.0,618.2 L1166.9,613.0 L1170.8,607.9 L1174.8,602.9 L1178.7,597.9 L1182.6,592.9 L1186.5,588.0 L1190.5,583.2 L1194.4,578.4 L1198.3,573.6 L1202.2,568.9 L1206.2,564.2 L1210.1,559.6 L1214.0,555.0 L1217.9,550.5 L1221.9,546.0 L1225.8,541.5 L1229.7,537.1 L1233.6,532.7 L1237.6,528.4 L1241.5,524.1 L1245.4,519.9 L1249.3,515.7 L1253.2,511.6 L1257.2,507.5 L1261.1,503.4 L1265.0,499.4 L1268.9,495.4 L1272.9,491.4 L1276.8,487.5 L1280.7,483.7 L1284.6,479.9 L1288.6,476.1 L1292.5,472.3 L1296.4,468.6 L1300.3,464.9 L1304.3,461.3 L1312.1,454.2 L1320.0,447.2 L1327.8,440.3 L1335.7,433.6 L1343.5,427.0 L1351.3,420.5 L1359.2,414.2 L1367.0,408.1 L1374.9,402.0 L1382.7,396.1 L1390.6,390.3 L1398.4,384.6 L1406.3,379.0 L1414.1,373.6 L1422.0,368.3 L1429.8,363.0 L1437.7,357.9 L1445.5,352.9 L1453.4,348.0 L1461.2,343.2 L1469.1,338.5 L1476.9,333.9 L1484.8,329.4 L1492.6,325.0 L1500.5,320.6 L1508.3,316.4 L1516.2,312.3 L1524.0,308.2 L1531.9,304.2 L1539.7,300.3 L1547.5,296.5 L1555.4,292.8 L1563.2,289.1 L1571.1,285.5 L1578.9,282.0 L1586.8,278.5 L1594.6,275.2 L1602.5,271.9 L1610.3,268.6 L1618.2,265.4 L1626.0,262.3 L1633.9,259.3 L1641.7,256.3 L1649.6,253.3 L1657.4,250.5 L1665.3,247.7 L1673.1,244.9 L1681.0,242.2 L1688.8,239.5 L1696.7,236.9 L1704.5,234.4 L1712.4,231.9 L1720.2,229.4 L1728.1,227.0 L1735.9,224.7 L1743.7,222.3 L1751.6,220.1 L1759.4,217.8 L1767.3,215.7 L1775.1,213.5 L1783.0,211.4 L1790.8,209.3 L1798.7,207.3 L1806.5,205.3 L1814.4,203.4 L1822.2,201.5 L1830.1,199.6 L1837.9,197.7 L1845.8,195.9 L1853.6,194.1 L1861.5,192.4 L1869.3,190.7 L1877.2,189.0 L1885.0,187.4 L1892.9,185.7 L1900.7,184.1 L1908.6,182.6 L1916.4,181.0 L1924.3,179.5 L1932.1,178.0 L1939.9,176.6 L1947.8,175.2 L1955.6,173.8 L1963.5,172.4 L1971.3,171.0 L1979.2,169.7 L1987.0,168.4 L1994.9,167.1 L2002.7,165.8 L2010.6,164.6 L2018.4,163.4 L2026.3,162.2 L2034.1,161.0 L2042.0,159.8 L2049.8,158.7 L2057.7,157.5 L2065.5,156.4 L2073.4,155.4 L2081.2,154.3 L2089.1,153.2 L2096.9,152.2 L2104.8,151.2 L2112.6,150.2 L2120.5,149.2 L2128.3,148.2 L2136.1,147.3 L2144.0,146.4 L2151.8,145.4 L2159.7,144.5 L2167.5,143.6 L2175.4,142.8 L2183.2,141.9 L2191.1,141.0 L2198.9,140.2 L2206.8,139.4 L2214.6,138.6 L2222.5,137.8 L2230.3,137.0 L2238.2,136.2 L2246.0,135.5 L2253.9,134.7 L2261.7,134.0 L2269.6,133.2 L2277.4,132.5 L2285.3,131.8 L2293.1,131.1 L2301.0,130.4 L2308.8,129.8 L2316.7,129.1 L2324.5,128.5" fill="none" stroke="url(#pb)" stroke-width="16" stroke-linecap="round" stroke-linejoin="round"/>
<path d="M366.5,1632.6L377.5,1632.6M396.5,1632.3L407.3,1632.0M426.4,1631.0L436.5,1630.1M455.9,1627.7L465.1,1626.1M484.6,1621.7L492.5,1619.5M512.2,1612.8L518.7,1610.2M538.2,1601.0L543.4,1598.2M562.4,1586.7L566.5,1583.9M584.9,1570.3L588.1,1567.7M605.7,1552.4L608.3,1550.0M625.1,1533.2L627.2,1531.0M643.2,1513.0L645.0,1511.0M660.3,1492.2L661.8,1490.3M676.5,1470.8L677.8,1469.1M692.0,1448.9L693.1,1447.3M706.8,1426.7L707.8,1425.2M721.1,1404.2L721.9,1402.8M734.9,1381.5L735.7,1380.1M748.3,1358.6L749.0,1357.3M761.4,1335.5L762.1,1334.3M774.2,1312.3L774.8,1311.1M786.8,1288.9L787.4,1287.8M799.1,1265.5L799.7,1264.4M811.3,1242.1L811.9,1241.0M823.4,1218.6L824.0,1217.5M835.4,1195.0L835.9,1193.9M847.3,1171.4L847.8,1170.3M859.2,1147.8L859.7,1146.7M871.0,1124.1L871.5,1123.1M882.8,1100.5L883.3,1099.5M894.6,1076.9L895.2,1075.8M906.5,1053.3L907.0,1052.2M918.4,1029.7L918.9,1028.6M930.4,1006.1L930.9,1005.0M942.5,982.6L943.0,981.5M954.6,959.1L955.2,958.0M966.9,935.7L967.5,934.6M979.3,912.3L980.0,911.2M991.9,889.0L992.6,887.9M1004.7,865.8L1005.4,864.6M1017.6,842.7L1018.3,841.5M1030.8,819.7L1031.6,818.4M1044.2,796.8L1045.0,795.5M1057.9,774.0L1058.7,772.6M1071.8,751.4L1072.7,749.9M1086.0,728.9L1086.9,727.4M1100.5,706.5L1101.5,705.0M1115.4,684.4L1116.5,682.8M1130.6,662.5L1131.7,660.8M1146.2,640.7L1147.4,639.0M1162.2,619.3L1163.5,617.5M1178.6,598.1L1180.0,596.2M1195.4,577.1L1197.0,575.2M1212.7,556.5L1214.4,554.5M1230.5,536.2L1232.3,534.2M1248.7,516.3L1250.8,514.2M1267.5,496.8L1269.8,494.6M1286.8,477.7L1289.3,475.4M1306.7,459.1L1309.3,456.7M1327.1,440.9L1329.9,438.5M1348.0,423.3L1351.1,420.7M1369.5,406.2L1372.8,403.6M1391.5,389.6L1395.1,387.0M1414.0,373.6L1418.0,371.0M1437.1,358.3L1441.4,355.6M1460.7,343.5L1465.3,340.8M1484.8,329.4L1489.6,326.6M1509.3,315.9L1514.5,313.1M1534.3,303.0L1539.8,300.3M1559.8,290.7L1565.5,288.0M1585.6,279.1L1591.6,276.5M1611.7,268.0L1618.1,265.5M1638.2,257.6L1644.9,255.1M1665.1,247.7L1672.0,245.3M1692.2,238.4L1699.3,236.1M1719.5,229.6L1726.9,227.4M1747.1,221.4L1754.8,219.2M1774.9,213.6L1782.8,211.5M1802.9,206.2L1811.0,204.2M1831.1,199.3L1839.4,197.4M1859.5,192.8L1867.9,191.0M1888.0,186.7L1896.6,185.0M1916.6,181.0L1925.3,179.3M1945.3,175.6L1954.2,174.0M1974.2,170.5L1983.2,169.0M2003.1,165.8L2012.3,164.3M2032.1,161.3L2041.4,159.9M2061.2,157.0L2070.6,155.7M2090.4,153.1L2099.9,151.8M2119.6,149.3L2129.2,148.1M2148.9,145.8L2158.6,144.7M2178.3,142.4L2188.0,141.4M2207.7,139.3L2217.5,138.3M2237.1,136.3L2247.0,135.4M2266.6,133.5L2276.5,132.6M2296.1,130.9L2306.1,130.0" fill="none" stroke="#444" stroke-width="14.5" stroke-linecap="round"/>
<use href="#mc" x="1489.6" y="930.2"/>
<use href="#mt" x="1490.4" y="1037.8"/>
<use href="#md" x="1490.75" y="1144.5"/>
<use href="#mh" x="1490.4" y="1251.2"/>
<line x1="1399" y1="1361" x2="1578" y2="1361" stroke="url(#pa)" stroke-width="16" stroke-linecap="round"/>
<g font-size="85">
<text x="1624" y="962" textLength="163.5" lengthAdjust="spacingAndGlyphs">ACF</text>
<text x="1624" y="1068" textLength="407.6" lengthAdjust="spacingAndGlyphs">Ag/ACF-10</text>
<text x="1624" y="1175" textLength="407.6" lengthAdjust="spacingAndGlyphs">Ag/ACF-15</text>
<text x="1624" y="1281.6" textLength="407.6" lengthAdjust="spacingAndGlyphs">Ag/ACF-20</text>
<text x="1626" y="1388.6" textLength="602" lengthAdjust="spacingAndGlyphs">Dose Response</text>
</g>
</svg>
</body></html>
